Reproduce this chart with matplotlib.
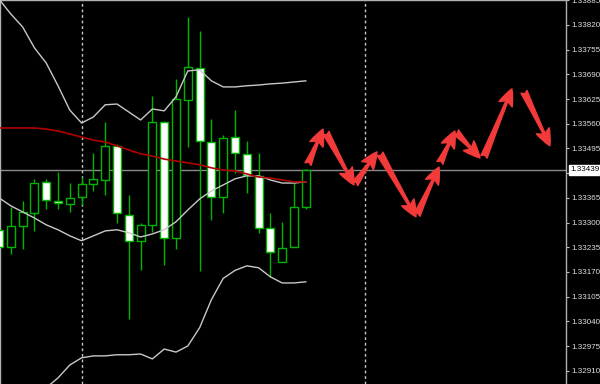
import numpy as np
import matplotlib.pyplot as plt
from matplotlib.patches import Rectangle, FancyArrowPatch
from matplotlib.transforms import blended_transform_factory

plt.rcParams['font.family'] = ['Liberation Sans', 'DejaVu Sans']

# candles (bar index 0..26)
opens = [1.33281, 1.33236, 1.33291, 1.33325, 1.33407, 1.33357, 1.33349, 1.33367, 1.33402,
         1.33412, 1.33502, 1.33320, 1.33252, 1.33294, 1.33565, 1.33259, 1.33623, 1.33707,
         1.33512, 1.33367, 1.33525, 1.33481, 1.33423, 1.33286, 1.33196, 1.33236, 1.33341]
highs = [1.33296, 1.33341, 1.33357, 1.33415, 1.33415, 1.33433, 1.33404, 1.33420, 1.33483,
         1.33565, 1.33507, 1.33373, 1.33299, 1.33633, 1.33567, 1.33678, 1.33841, 1.33804,
         1.33573, 1.33531, 1.33596, 1.33515, 1.33483, 1.33325, 1.33302, 1.33407, 1.33441]
lows = [1.33223, 1.33217, 1.33231, 1.33278, 1.33336, 1.33336, 1.33328, 1.33346, 1.33383,
        1.33373, 1.33299, 1.33046, 1.33175, 1.33275, 1.33188, 1.33231, 1.33499, 1.33173,
        1.33307, 1.33325, 1.33431, 1.33378, 1.33273, 1.33157, 1.33196, 1.33236, 1.33336]
closes = [1.33236, 1.33291, 1.33328, 1.33404, 1.33360, 1.33352, 1.33365, 1.33402, 1.33415,
          1.33502, 1.33325, 1.33252, 1.33294, 1.33565, 1.33259, 1.33625, 1.33710, 1.33515,
          1.33367, 1.33523, 1.33483, 1.33425, 1.33286, 1.33223, 1.33233, 1.33341, 1.33439]

# bollinger bands
bb_upper = [1.33888, 1.33849, 1.33815, 1.33760, 1.33720, 1.33660, 1.33596, 1.33562, 1.33578,
            1.33610, 1.33612, 1.33591, 1.33570, 1.33599, 1.33594, 1.33631, 1.33699, 1.33702,
            1.33673, 1.33657, 1.33657, 1.33660, 1.33662, 1.33665, 1.33667, 1.33670, 1.33673]
bb_middle = [1.33365, 1.33344, 1.33328, 1.33312, 1.33294, 1.33281, 1.33265, 1.33252, 1.33265,
             1.33278, 1.33281, 1.33273, 1.33262, 1.33270, 1.33281, 1.33302, 1.33333, 1.33362,
             1.33383, 1.33399, 1.33415, 1.33423, 1.33423, 1.33412, 1.33404, 1.33404, 1.33407]
bb_lower_start = 4
bb_lower = [1.32865, 1.32891, 1.32925, 1.32944, 1.32949, 1.32949, 1.32952, 1.32952, 1.32954,
            1.32941, 1.32967, 1.32959, 1.32975, 1.33023, 1.33097, 1.33153, 1.33174, 1.33186,
            1.33181, 1.33157, 1.33141, 1.33141, 1.33144]
# moving average (red)
ma_red = [1.33549, 1.33549, 1.33549, 1.33549, 1.33546, 1.33541, 1.33533, 1.33525, 1.33517,
          1.33512, 1.33502, 1.33491, 1.33481, 1.33475, 1.33467, 1.33462, 1.33457, 1.33452,
          1.33444, 1.33438, 1.33436, 1.33428, 1.33420, 1.33417, 1.33412, 1.33407, 1.33407]

price_ticks = [1.32910, 1.32975, 1.33040, 1.33105, 1.33170, 1.33235, 1.33300, 1.33365,
               1.33430, 1.33495, 1.33560, 1.33625, 1.33690, 1.33755, 1.33820, 1.33885]
current_price = 1.33439
separators = [7, 31]

# forecast zigzag arrows (bar index, price)
arrow_x0 = [26.19, 27.71, 30.17, 32.29, 35.42, 37.37, 38.73, 41.10, 44.49]
arrow_y0 = [1.33454, 1.33536, 1.33402, 1.33481, 1.33320, 1.33457, 1.33538, 1.33473, 1.33644]
arrow_x1 = [27.46, 30.08, 32.03, 35.34, 37.29, 38.64, 40.76, 43.47, 46.69]
arrow_y1 = [1.33546, 1.33399, 1.33486, 1.33315, 1.33446, 1.33541, 1.33470, 1.33652, 1.33502]

green = '#00b400'
grey = '#c8c8c8'

fig = plt.figure(figsize=(6, 3.84), dpi=100, facecolor='black')
ax = fig.add_axes([0, 0, 566 / 600, 1])
ax.set_facecolor('black')

# candles
for i in range(len(opens)):
    o, h, l, c = opens[i], highs[i], lows[i], closes[i]
    ax.vlines(i, l, h, color=green, linewidth=1, zorder=2)
    bull = c >= o
    ax.add_patch(Rectangle((i - 0.34, min(o, c)), 0.68, max(abs(c - o), 0.00001),
                           facecolor='black' if bull else 'white', edgecolor=green,
                           linewidth=1, zorder=3))

# price line + separators
ax.axhline(current_price, color='#8a8a8a', linewidth=1, zorder=1)
for s in separators:
    ax.axvline(s, color=grey, linewidth=1, linestyle=(0, (2, 2)), zorder=1)

# indicators
bars = np.arange(len(opens))
ax.plot(bars, bb_upper, color=grey, linewidth=1, zorder=4)
ax.plot(bars, bb_middle, color=grey, linewidth=1, zorder=4)
ax.plot(np.arange(bb_lower_start, bb_lower_start + len(bb_lower)), bb_lower,
        color=grey, linewidth=1, zorder=4)
ax.plot(bars, ma_red, color='#b00000', linewidth=1.2, zorder=5)

# arrows
for x0, y0, x1, y1 in zip(arrow_x0, arrow_y0, arrow_x1, arrow_y1):
    ax.add_patch(FancyArrowPatch((x0, y0), (x1, y1),
                                 arrowstyle='fancy,head_length=1.0,head_width=0.85,tail_width=0.4',
                                 mutation_scale=12, color='#f23a3a', shrinkA=0, shrinkB=0,
                                 zorder=6))

ax.set_xlim(1 / 11.8, 567 / 11.8)
ax.set_ylim(1.32875, 1.338858)

ax.yaxis.tick_right()
ax.set_yticks(price_ticks)
ax.set_yticklabels([f'{p:.5f}' for p in price_ticks])
ax.set_xticks([])
ax.tick_params(axis='y', direction='out', length=2.5, width=0.8, color='#c0c0c0',
               labelcolor='#e0e0e0', labelsize=5.8, pad=1.5)
for side in ['left', 'top', 'right']:
    ax.spines[side].set_color('#b0b0b0')
    ax.spines[side].set_linewidth(1)
ax.spines['bottom'].set_visible(False)

# current price label
trans = blended_transform_factory(ax.transAxes, ax.transData)
ax.text(1.008, current_price, f'{current_price:.5f}', transform=trans, fontsize=5.8,
        color='black', va='center', ha='left', clip_on=False, zorder=10,
        bbox=dict(boxstyle='square,pad=0.2', facecolor='white', edgecolor='white'))

fig.savefig('out.png', dpi=100, facecolor='black')
